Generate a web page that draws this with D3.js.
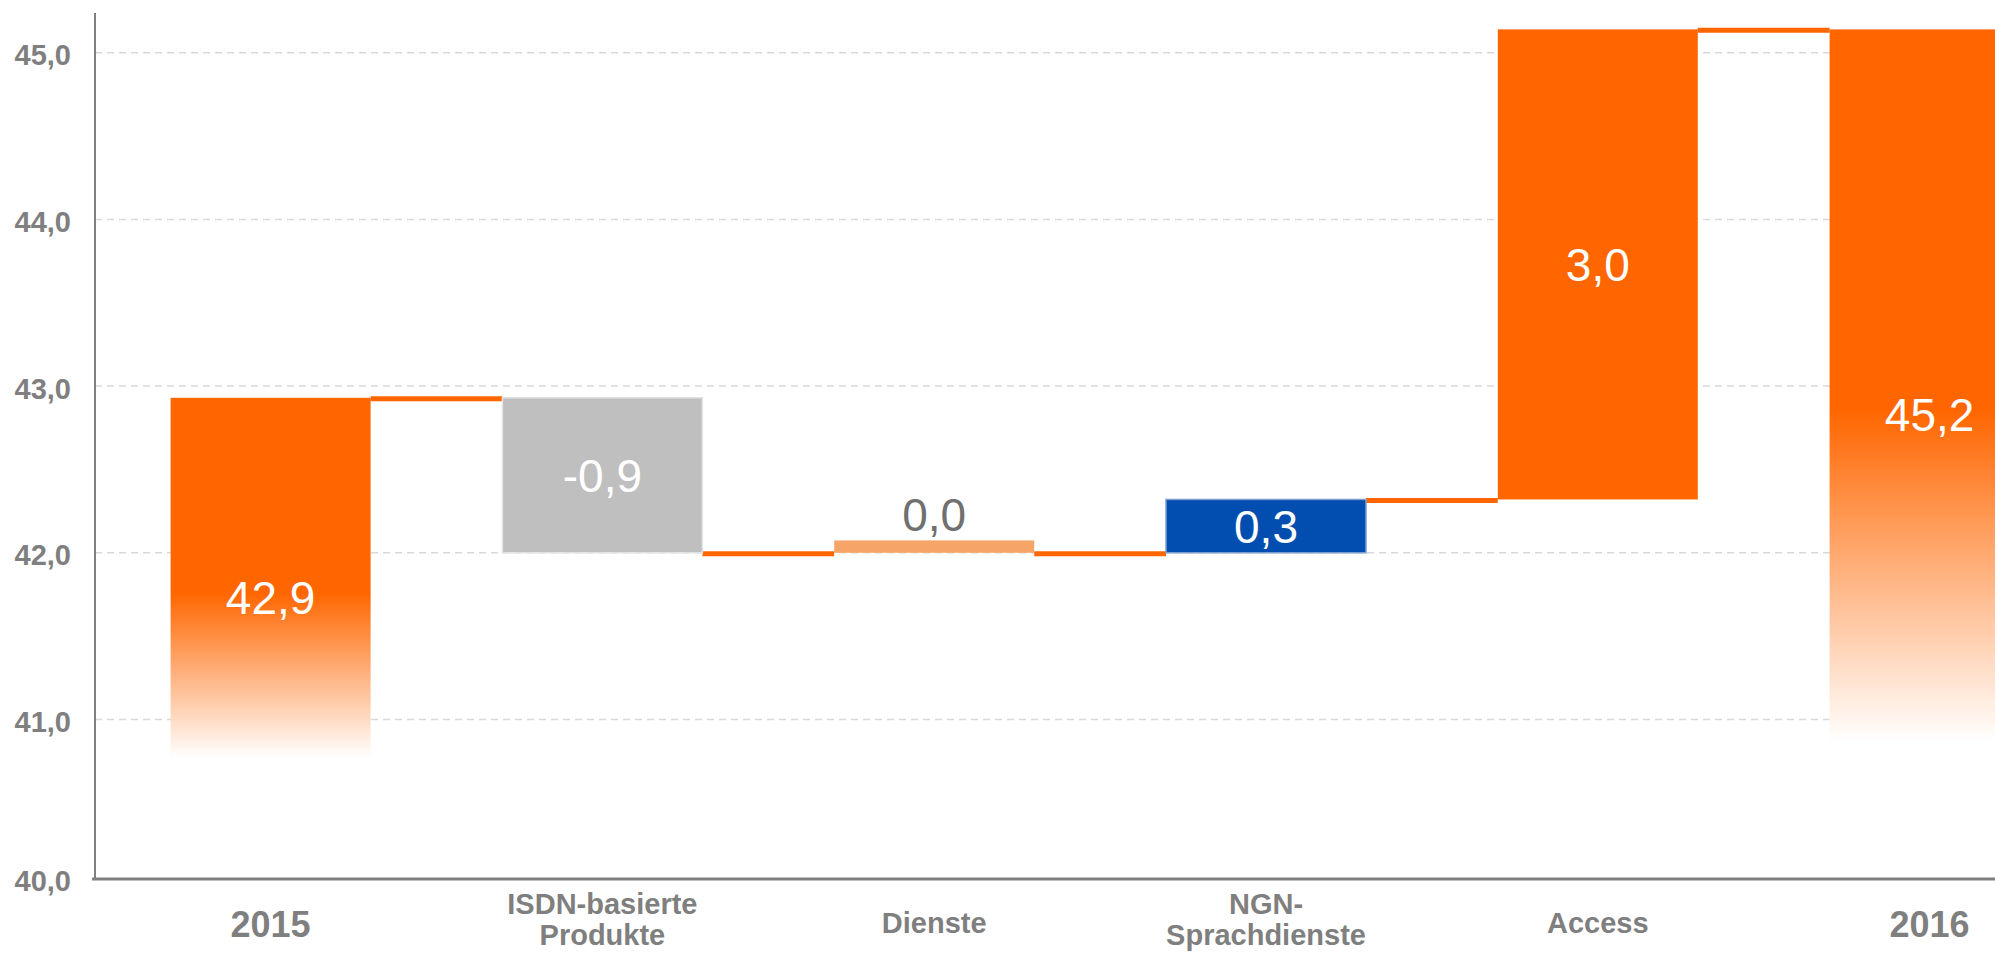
<!DOCTYPE html>
<html>
<head>
<meta charset="utf-8">
<script src="https://cdn.jsdelivr.net/npm/d3@7"></script>
<style>
  body { margin: 0; background: #fff; }
  text { font-family: "Liberation Sans", Arial, sans-serif; }
</style>
</head>
<body>
<div class="area"></div>
<script>
// categories, one entry per bar (lines of the axis label)
var categories = [["2015"], ["ISDN-basierte", "Produkte"], ["Dienste"], ["NGN-", "Sprachdienste"], ["Access"], ["2016"]];
// printed values
var values = [42.9, -0.9, 0.0, 0.3, 3.0, 45.2];
// level where each bar starts and ends
var barStart = [40, 42.93, 42.0, 42.0, 42.32, 40];
var barEnd = [42.93, 42.0, 42.0, 42.32, 45.14, 45.14];
var yTicks = [40, 41, 42, 43, 44, 45];

var orange = "#ff6600";
var barFill = ["url(#fade0)", "#bfbfbf", "#f7a468", "#024eb0", orange, "url(#fade5)"];
var labelFill = ["#fff", "#fff", "#707070", "#fff", "#fff", "#fff"];
// where the total bars stop being solid and where they are white
var fadeFrom = {0: 41.76, 5: 42.86};
var fadeTo = {0: 40.77, 5: 40.87};

var W = 1995, H = 957;
var axisX = 95, axisY = 879;

var svg = d3.select(".area")
    .append("svg")
    .attr("width", W)
    .attr("height", H);

var y = d3.scaleLinear().domain([40, 45]).range([886.2, 52.7]);
var x = d3.scaleBand()
    .domain(d3.range(categories.length))
    .range([104.7, 104.7 + 6 * 331.8])
    .paddingInner(0.3972)
    .paddingOuter(0.1986);

// gradients for the two total bars
var defs = svg.append("defs");
[0, 5].forEach(function (i) {
    var g = defs.append("linearGradient")
        .attr("id", "fade" + i)
        .attr("gradientUnits", "userSpaceOnUse")
        .attr("x1", 0).attr("x2", 0)
        .attr("y1", y(fadeFrom[i])).attr("y2", y(fadeTo[i]));
    g.append("stop").attr("offset", 0).attr("stop-color", orange);
    g.append("stop").attr("offset", 1).attr("stop-color", "#ffffff");
});

// grid
svg.append("g")
    .selectAll("line")
    .data(yTicks.filter(function (t) { return t > 40; }))
    .enter().append("line")
    .attr("x1", axisX)
    .attr("x2", W)
    .attr("y1", function (d) { return y(d); })
    .attr("y2", function (d) { return y(d); })
    .style("stroke", "#d9d9d9")
    .style("stroke-width", 1.5)
    .style("stroke-dasharray", "7,5");

// tick labels
svg.append("g")
    .selectAll("text")
    .data(yTicks)
    .enter().append("text")
    .attr("x", 71)
    .attr("y", function (d) { return Math.min(y(d), axisY) + 2; })
    .attr("dy", "0.36em")
    .attr("text-anchor", "end")
    .style("font-size", "29px")
    .style("font-weight", "bold")
    .attr("fill", "#7f7f7f")
    .text(function (d) { return d3.format(".1f")(d).replace(".", ","); });

// connectors
for (var i = 0; i < categories.length - 1; i++) {
    svg.append("line")
        .attr("x1", x(i) + x.bandwidth())
        .attr("x2", x(i + 1))
        .attr("y1", y(barEnd[i]) + 1)
        .attr("y2", y(barEnd[i]) + 1)
        .style("stroke", orange)
        .style("stroke-width", 5);
}

// bars
for (var i = 0; i < categories.length; i++) {
    var y0 = y(Math.max(barStart[i], barEnd[i]));
    var y1 = y(Math.min(barStart[i], barEnd[i]));
    if (y1 - y0 < 1) y0 = y1 - 12.4;   // zero change still shows a thin bar
    var r = svg.append("rect")
        .attr("x", x(i))
        .attr("y", y0)
        .attr("width", x.bandwidth())
        .attr("height", y1 - y0)
        .attr("fill", barFill[i]);
    if (i == 1 || i == 3) {
        r.style("stroke", i == 1 ? "#e3e3e3" : "#7f9fd0").style("stroke-width", 1.5);
    }

    var ly;
    if (fadeFrom[i] !== undefined) {
        ly = y(fadeFrom[i]) + 5;     // totals: label sits where the fade begins
    } else if (values[i] == 0) {
        ly = y0 - 26;                // zero: above the bar
    } else {
        ly = (y0 + y1) / 2;
    }
    svg.append("text")
        .attr("x", x(i) + x.bandwidth() / 2)
        .attr("y", ly)
        .attr("dy", "0.36em")
        .attr("text-anchor", "middle")
        .style("font-size", "46px")
        .attr("fill", labelFill[i])
        .text(d3.format(".1f")(values[i]).replace(".", ",").replace("−", "-"));
}

// axes lines
svg.append("line")
    .attr("x1", axisX).attr("x2", axisX)
    .attr("y1", 13).attr("y2", axisY)
    .style("stroke", "#808080")
    .style("stroke-width", 2);
svg.append("line")
    .attr("x1", axisX - 3).attr("x2", W)
    .attr("y1", axisY).attr("y2", axisY)
    .style("stroke", "#7f7f7f")
    .style("stroke-width", 3);

// category labels
categories.forEach(function (lines, i) {
    var year = lines.length == 1 && /^\d+$/.test(lines[0]);
    var t = svg.append("text")
        .attr("x", x(i) + x.bandwidth() / 2)
        .attr("text-anchor", "middle")
        .style("font-weight", "bold")
        .style("font-size", year ? "36px" : "29px")
        .attr("fill", "#7f7f7f");
    if (lines.length == 1) {
        t.attr("y", year ? axisY + 58 : axisY + 54).text(lines[0]);
    } else {
        lines.forEach(function (s, k) {
            t.append("tspan")
                .attr("x", x(i) + x.bandwidth() / 2)
                .attr("y", axisY + 35 + k * 31)
                .text(s);
        });
    }
});
</script>
</body>
</html>
